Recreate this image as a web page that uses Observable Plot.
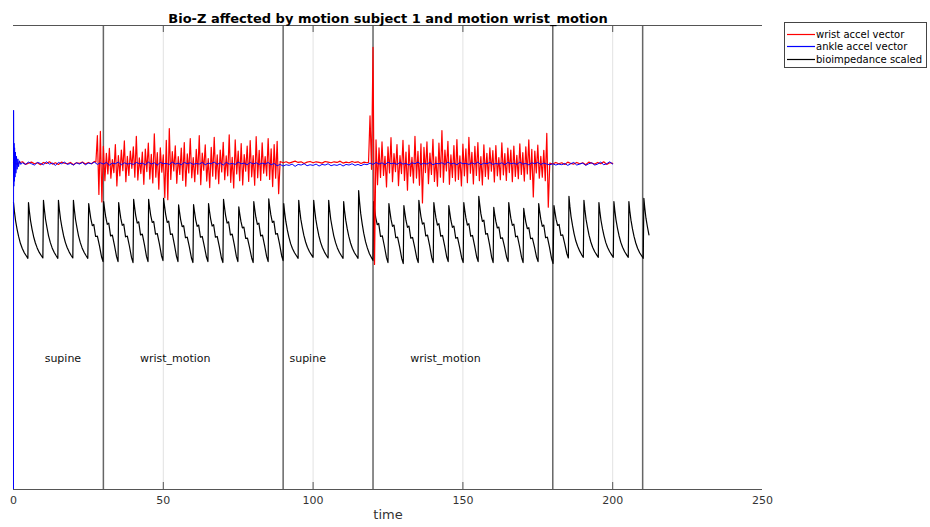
<!DOCTYPE html>
<html>
<head>
<meta charset="utf-8">
<script src="https://cdn.jsdelivr.net/npm/d3@7"></script>
<script src="https://cdn.jsdelivr.net/npm/@observablehq/plot@0.6"></script>
<style>
  html, body { margin: 0; padding: 0; background: #fff; }
  #wrap { position: relative; width: 930px; height: 527px; }
  #legend { position: absolute; left: 784px; top: 22px; }
</style>
</head>
<body>
<div id="wrap"><div id="chart"></div><div id="legend"></div></div>
<script>
// ---- chart text ----
const titleText = "Bio-Z affected by motion subject 1 and motion wrist_motion";
const xLabel = "time";
const seriesNames = ["wrist accel vector", "ankle accel vector", "bioimpedance scaled"];
const seriesColors = ["#ff0000", "#0000ff", "#000000"];

// ---- axes ----
const xTicks = [0, 50, 100, 150, 200, 250];
const gridTicks = [50, 100, 150, 200];
const yRange = [0, 1.423];

// ---- protocol phases ----
const phaseBounds = [30, 90, 120, 180, 210];
const phaseNames = ["supine", "wrist_motion", "supine", "wrist_motion"];
const phaseLabelX = [10.4, 42.2, 92.1, 132.4];
const phaseLabelY = 0.403;

// ---- ankle accelerometer magnitude ----
const ankleOnsetT = [0, 0.03, 0.1, 0.18, 0.27, 0.37, 0.5, 0.65, 0.8, 1.0, 1.2, 1.45, 1.7, 2.0, 2.4];
const ankleOnsetV = [0, 1.163, 0.930, 1.062, 0.945, 1.048, 0.958, 1.035, 0.970, 1.022, 0.982, 1.014, 0.990, 1.008, 0.997];
const ankleRestStart = 3, ankleRestStep = 1;
const ankleRest = [
  1.002, 0.997, 1.004, 0.999, 0.995, 1.003, 1.000, 0.996, 1.005, 0.998, 1.001, 0.994, 1.003, 0.999, 1.004, 0.997, 1.000, 0.995, 1.002, 0.998,
  1.003, 0.996, 1.001, 0.999, 1.004, 0.997, 1.002, 0.998, 1.003, 0.995, 1.001, 0.999, 1.004, 0.996, 1.002, 0.998, 1.000, 0.997, 1.003, 0.999,
  1.001, 0.996, 1.004, 0.998, 1.002, 0.995, 1.003, 0.999, 1.000, 0.997, 1.004, 0.998, 1.001, 0.996, 1.003, 0.999, 1.002, 0.997, 1.000, 0.998,
  1.003, 0.996, 1.001, 0.999, 1.004, 0.997, 1.002, 0.995, 1.003, 0.998, 1.000, 0.997, 1.004, 0.999, 1.001, 0.996, 1.003, 0.998, 1.002, 0.997,
  1.001, 0.998, 1.003, 0.996, 1.000, 0.993, 0.997, 0.992, 0.996, 0.994, 0.998, 0.991, 0.997, 0.995, 0.999, 0.993, 0.996, 0.994, 0.998, 0.992,
  0.997, 0.995, 0.999, 0.993, 0.996, 0.994, 0.998, 0.992, 0.997, 0.995, 0.999, 0.994, 0.997, 0.993, 0.998, 0.996, 1.001, 0.997, 1.003, 0.998,
  1.002, 0.996, 1.004, 0.999, 1.001, 0.997, 1.003, 0.998, 1.000, 0.995, 1.002, 0.999, 1.004, 0.997, 1.001, 0.998, 1.003, 0.996, 1.000, 0.999,
  1.002, 0.997, 1.004, 0.998, 1.001, 0.996, 1.003, 0.999, 1.000, 0.997, 1.002, 0.998, 1.004, 0.996, 1.001, 0.999, 1.003, 0.997, 1.000, 0.998,
  1.002, 0.996, 1.003, 0.999, 1.001, 0.997, 1.004, 0.998, 1.000, 0.996, 1.002, 0.999, 1.003, 0.997, 1.001, 0.998, 0.996, 0.999, 0.995, 0.998,
  0.996, 1.000, 0.994, 0.999, 1.003, 0.995, 0.998, 1.001, 0.994, 0.999, 1.002, 0.995, 0.998, 1.004, 0.996, 0.999, 1.005, 0.998
];

// ---- wrist accelerometer magnitude (rest stretches at 1 s, motion bursts at 0.5 s) ----
const wristRest1 = [1.003, 0.998, 1.002, 1.005, 0.997, 1.001, 1.004, 0.999, 1.002, 0.996, 1.003, 1.000, 1.005, 0.998,
  1.002, 0.997, 1.004, 1.001, 0.999, 1.003, 0.996, 1.002, 1.000, 1.004, 0.998, 1.003, 0.999, 1.006];
const wristBurst1 = [
  1.004, 1.085, 0.905, 1.098, 0.882, 1.052, 0.947, 1.031, 0.968, 1.046, 0.955, 1.012, 0.972, 1.058, 0.931, 1.024, 0.962, 1.041, 0.978, 1.069,
  0.944, 1.022, 0.963, 1.038, 0.985, 1.051, 0.958, 1.083, 0.949, 1.017, 0.969, 1.035, 0.936, 1.044, 0.975, 1.062, 0.952, 1.028, 0.940, 1.091,
  0.958, 1.033, 0.921, 1.048, 0.973, 1.026, 0.895, 1.071, 0.889, 1.107, 0.951, 1.036, 0.977, 1.054, 0.939, 1.021, 0.966, 1.047, 0.948, 1.064,
  0.930, 1.029, 0.971, 1.076, 0.956, 1.018, 0.944, 1.043, 0.967, 1.085, 0.935, 1.032, 0.979, 1.057, 0.946, 1.015, 0.926, 1.049, 0.961, 1.080,
  0.952, 1.026, 0.938, 1.041, 0.974, 1.065, 0.950, 1.023, 0.962, 1.088, 0.942, 1.019, 0.925, 1.072, 0.968, 1.038, 0.947, 1.061, 0.934, 1.027,
  0.976, 1.053, 0.945, 1.070, 0.959, 1.024, 0.933, 1.082, 0.956, 1.040, 0.948, 1.063, 0.970, 1.021, 0.962, 1.076, 0.951, 1.045, 0.929, 1.058,
  0.955, 1.068, 0.907
];
const wristRest2 = [1.006, 1.002, 1.005, 1.001, 1.004, 1.007, 1.003, 1.005, 1.000, 1.004, 1.006, 1.002, 1.005, 1.003, 1.001,
  1.006, 1.004, 1.002, 1.005, 1.003, 1.007, 1.001, 1.004, 1.002, 1.006, 1.003, 1.005, 1.000, 1.004, 1.002];
const wristBurst2 = [
  1.003, 1.146, 0.982, 1.356, 0.690, 1.072, 0.935, 1.048, 0.957, 1.066, 0.963, 1.022, 0.928, 1.051, 0.971, 1.079, 0.944, 1.030, 0.975, 1.058,
  0.932, 1.024, 0.969, 1.071, 0.948, 1.035, 0.918, 1.056, 0.961, 1.019, 0.940, 1.083, 0.955, 1.037, 0.933, 1.060, 0.879, 1.049, 0.972, 1.066,
  0.938, 1.032, 0.966, 1.074, 0.945, 1.020, 0.930, 1.062, 0.958, 1.101, 0.942, 1.041, 0.977, 1.068, 0.936, 1.026, 0.957, 1.055, 0.946, 1.073,
  0.951, 1.023, 0.931, 1.059, 0.962, 1.045, 0.941, 1.080, 0.970, 1.034, 0.937, 1.052, 0.963, 1.064, 0.947, 1.021, 0.934, 1.057, 0.960, 1.031,
  0.952, 1.048, 0.976, 1.039, 0.943, 1.055, 0.962, 1.018, 0.950, 1.063, 0.965, 1.030, 0.948, 1.047, 0.972, 1.041, 0.944, 1.053, 0.960, 1.025,
  0.953, 1.060, 0.966, 1.033, 0.946, 1.051, 0.968, 1.072, 0.951, 1.043, 0.897, 1.038, 0.971, 1.056, 0.955, 1.022, 0.958, 1.040, 0.947, 1.092,
  0.866
];
const wristRest3 = [1.001, 0.998, 1.003, 0.999, 1.002, 0.997, 1.004, 1.000, 0.998, 1.003, 0.999, 1.002, 0.996, 1.004, 1.001,
  0.998, 1.003, 0.999, 1.005, 0.997, 1.002, 1.000];
const wristSegments = [
  { start: 0, step: 1, values: wristRest1 },
  { start: 27.5, step: 0.5, values: wristBurst1 },
  { start: 89, step: 1, values: wristRest2 },
  { start: 118.5, step: 0.5, values: wristBurst2 },
  { start: 179, step: 1, values: wristRest3 }
];

// ---- bioimpedance (scaled): one row per heartbeat, sampled at bioOffsets after each peak ----
const bioOffsets = [0, 0.3, 0.7, 1.2, 1.7, 2.3, 2.9, 3.6, 4.3, 4.8];
const bioPeakT = [0, 5.0, 10.0, 15.0, 20.0, 25.1, 30.1, 35.1, 40.1, 45.1, 50.1, 55.1, 60.1, 65.1, 70.1, 75.2, 80.2, 85.2,
  90.2, 95.2, 100.2, 105.2, 110.2, 115.2, 120.2, 125.3, 130.3, 135.3, 140.3, 145.3, 150.3, 155.3, 160.3, 165.3, 170.3,
  175.3, 180.4, 185.4, 190.4, 195.4, 200.4, 205.4, 210.4];
const bioBeats = [
  [.880, .853, .824, .798, .776, .755, .740, .726, .716, .709],
  [.880, .853, .824, .798, .776, .756, .741, .727, .717, .710],
  [.887, .859, .828, .802, .778, .757, .741, .727, .716, .709],
  [.887, .859, .829, .802, .779, .758, .742, .728, .717, .710],
  [.887, .859, .828, .802, .778, .757, .741, .727, .716, .709],
  [.877, .856, .831, .809, .813, .776, .777, .747, .713, .699],
  [.883, .861, .835, .813, .817, .778, .780, .749, .714, .699],
  [.880, .858, .832, .810, .814, .775, .777, .746, .711, .696],
  [.890, .867, .840, .817, .821, .781, .783, .751, .714, .699],
  [.890, .867, .841, .819, .822, .783, .785, .753, .717, .702],
  [.893, .870, .843, .819, .823, .782, .784, .751, .715, .699],
  [.873, .852, .827, .806, .809, .772, .774, .744, .710, .696],
  [.874, .853, .828, .807, .811, .774, .776, .746, .713, .699],
  [.877, .855, .830, .808, .812, .774, .776, .745, .710, .696],
  [.890, .867, .840, .817, .821, .781, .783, .751, .714, .699],
  [.867, .846, .823, .802, .805, .770, .771, .742, .710, .696],
  [.883, .861, .835, .813, .817, .778, .780, .749, .714, .699],
  [.891, .868, .842, .819, .823, .783, .785, .753, .717, .702],
  [.877, .850, .822, .796, .775, .754, .739, .726, .716, .709],
  [.887, .859, .829, .803, .780, .759, .743, .729, .719, .712],
  [.887, .859, .829, .802, .779, .758, .742, .728, .717, .710],
  [.887, .859, .828, .802, .778, .757, .741, .727, .716, .709],
  [.883, .855, .826, .799, .777, .756, .740, .726, .716, .709],
  [.917, .883, .846, .814, .786, .760, .741, .723, .711, .702],
  [.883, .861, .834, .812, .816, .776, .778, .746, .711, .696],
  [.877, .855, .829, .807, .811, .772, .774, .743, .708, .693],
  [.871, .850, .825, .804, .808, .771, .773, .743, .710, .696],
  [.887, .864, .837, .814, .818, .778, .780, .748, .711, .696],
  [.880, .858, .833, .811, .815, .777, .779, .748, .713, .699],
  [.871, .850, .825, .804, .808, .771, .773, .743, .710, .696],
  [.880, .858, .833, .811, .815, .777, .779, .748, .713, .699],
  [.899, .875, .846, .822, .826, .783, .785, .751, .712, .696],
  [.865, .845, .822, .802, .805, .770, .772, .744, .712, .699],
  [.880, .858, .832, .810, .814, .775, .777, .746, .711, .696],
  [.862, .842, .820, .800, .803, .769, .771, .743, .712, .699],
  [.877, .855, .829, .807, .811, .772, .774, .743, .708, .693],
  [.871, .852, .829, .810, .813, .779, .781, .753, .723, .710],
  [.899, .869, .837, .809, .785, .762, .746, .731, .719, .712],
  [.887, .859, .829, .803, .780, .759, .743, .729, .719, .712],
  [.880, .853, .825, .799, .778, .757, .742, .729, .719, .712],
  [.883, .856, .827, .801, .779, .758, .743, .729, .719, .712],
  [.883, .855, .826, .799, .777, .756, .740, .726, .716, .709],
  [.893, .864, .832, .805, .781]
];

// ---- assemble tidy rows ----
const ankle = ankleOnsetT.map((t, i) => ({ t, v: ankleOnsetV[i] }))
  .concat(ankleRest.map((v, i) => ({ t: ankleRestStart + i * ankleRestStep, v })));
const wrist = wristSegments.flatMap(s => s.values.map((v, i) => ({ t: s.start + i * s.step, v })));
const bio = bioPeakT.flatMap((tp, k) => bioBeats[k].map((v, j) => ({ t: tp + bioOffsets[j], v })));

const marginTop = 25, marginBottom = 38, height = 527;
const innerH = height - marginTop - marginBottom;
const tickLen = 7;

const chart = Plot.plot({
  width: 930,
  height,
  marginLeft: 13,
  marginRight: 168,
  marginTop,
  marginBottom,
  style: { fontFamily: "DejaVu Sans, sans-serif", fontSize: "11px", color: "#333", background: "#fff" },
  x: { domain: [0, 250], ticks: xTicks, tickSize: 0, tickPadding: 7, tickFormat: d => String(d), label: null },
  y: { domain: yRange, axis: null },
  marks: [
    Plot.ruleX(gridTicks, { stroke: "#e2e2e2", strokeWidth: 1 }),
    Plot.ruleX(phaseBounds, { stroke: "#666", strokeWidth: 1.5 }),
    Plot.line(bio, { x: "t", y: "v", stroke: seriesColors[2], strokeWidth: 1.2 }),
    Plot.line(wrist, { x: "t", y: "v", stroke: seriesColors[0], strokeWidth: 1.2 }),
    Plot.line(ankle, { x: "t", y: "v", stroke: seriesColors[1], strokeWidth: 1 }),
    Plot.ruleY([yRange[0]], { stroke: "#555", strokeWidth: 1 }),
    Plot.ruleY([yRange[1]], { stroke: "#555", strokeWidth: 1 }),
    Plot.ruleX(gridTicks, { stroke: "#555", insetTop: innerH - tickLen }),
    Plot.ruleX(gridTicks, { stroke: "#555", insetBottom: innerH - tickLen }),
    Plot.text(phaseNames, { x: (d, i) => phaseLabelX[i], y: () => phaseLabelY, text: d => d, textAnchor: "start", fill: "#111", fontSize: 11 }),
    Plot.text([titleText], { frameAnchor: "top", dy: -12, fontWeight: "bold", fontSize: 13, fill: "#000" }),
    Plot.text([xLabel], { frameAnchor: "bottom", dy: 29, fontSize: 13, fill: "#333" })
  ]
});
document.getElementById("chart").appendChild(chart);

// legend box: a short line sample next to each series name
const rowH = 12.5, rowTop = 11.5;
const legend = d3.select("#legend").append("svg")
  .attr("width", 144).attr("height", 47)
  .style("font", "10px 'DejaVu Sans', sans-serif");
legend.append("rect")
  .attr("x", 0.5).attr("y", 0.5).attr("width", 142).attr("height", 45)
  .attr("fill", "#fff").attr("stroke", "#444");
const rows = legend.selectAll("g").data(seriesNames).join("g")
  .attr("transform", (d, i) => `translate(0,${Math.round(rowTop + i * rowH) + 0.5})`);
rows.append("line")
  .attr("x1", 3).attr("x2", 31)
  .attr("stroke", (d, i) => seriesColors[i]).attr("stroke-width", 1.2);
rows.append("text")
  .attr("x", 32).attr("dy", "0.35em")
  .attr("fill", "#000")
  .text(d => d);
</script>
</body>
</html>
